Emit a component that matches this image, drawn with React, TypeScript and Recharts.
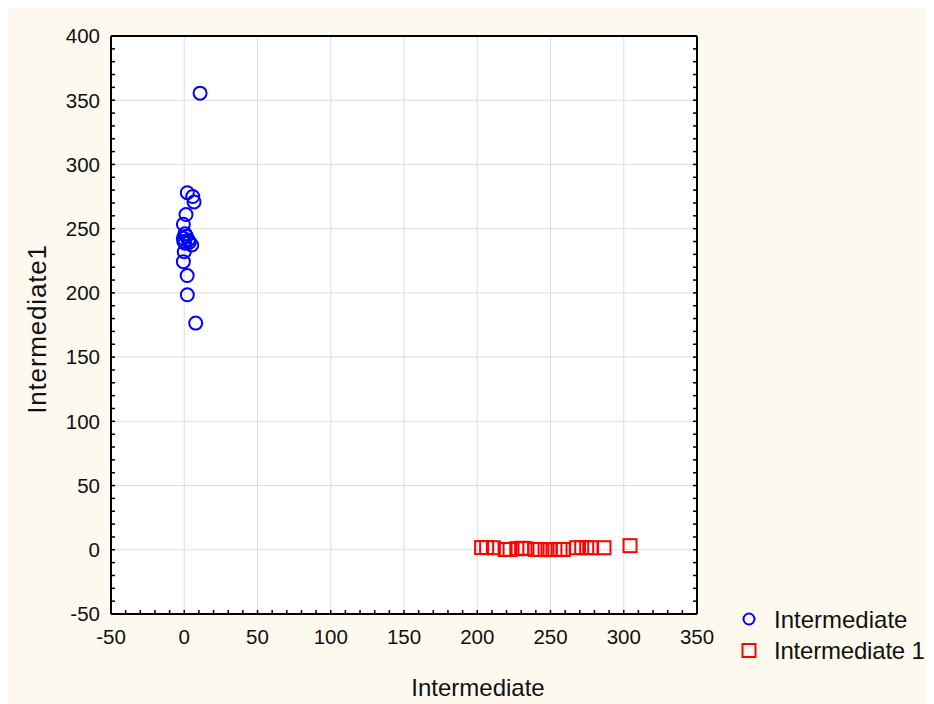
import React from 'react';
import {
  ScatterChart, Scatter, XAxis, YAxis, ReferenceLine, CartesianGrid, Legend,
} from 'recharts';

// ---- data ----
const blueSeriesName = 'Intermediate';
const redSeriesName = 'Intermediate 1';
const xTitle = 'Intermediate';
const yTitle = 'Intermediate1';

const blueX = [10.8, 2.1, 5.8, 6.7, 1.2, -0.6, 0.5, -0.6, 2.8, 0.5, 5.1, 0.0, -0.6, 2.0, 2.1, 7.8, 1.5, 3.5, -0.3];
const blueY = [355.5, 278, 275, 270.8, 261, 253.4, 246, 242.5, 241, 238.6, 237.3, 232, 224.3, 213.5, 198.5, 176.5, 244, 239.5, 240];

const redX = [203, 206.4, 211, 219, 222.4, 227, 230.3, 232.6, 239.4, 242.8, 246.3, 249.7, 253, 256.5, 258.7, 267.9, 271.3, 274.7, 278, 286.5, 304.3];
const redY = [1.7, 1.8, 1.6, 0.2, 0.3, 0.8, 1.2, 1.0, 0.3, 0.2, 0.2, 0.1, 0.2, 0.3, 0.2, 1.6, 1.7, 1.6, 1.6, 1.6, 3.2];

const xMajorTicks = [-50, 0, 50, 100, 150, 200, 250, 300, 350];
const yMajorTicks = [-50, 0, 50, 100, 150, 200, 250, 300, 350, 400];
const xAllTicks = [-50, -40, -30, -20, -10, 0, 10, 20, 30, 40, 50, 60, 70, 80, 90, 100, 110, 120, 130, 140, 150, 160, 170, 180, 190, 200, 210, 220, 230, 240, 250, 260, 270, 280, 290, 300, 310, 320, 330, 340, 350];
const yAllTicks = [-50, -40, -30, -20, -10, 0, 10, 20, 30, 40, 50, 60, 70, 80, 90, 100, 110, 120, 130, 140, 150, 160, 170, 180, 190, 200, 210, 220, 230, 240, 250, 260, 270, 280, 290, 300, 310, 320, 330, 340, 350, 360, 370, 380, 390, 400];
const xDomain = [-50, 350];
const yDomain = [-50, 400];

const blueData = blueX.map((x, i) => ({ x, y: blueY[i] }));
const redData = redX.map((x, i) => ({ x, y: redY[i] }));

// ---- styles ----
const FONT = '"Liberation Sans", Arial, sans-serif';
const BLUE = '#0000FF';
const RED = '#FF0000';
const TEXT = '#111111';
const GRID = '#DDDDDD';
const BG = '#FEF9EF';
const TICK_LEN = 4;

const BottomTick = (props: any) => {
  const { x, y, payload } = props;
  const major = xMajorTicks.includes(payload.value);
  return (
    <g>
      <line x1={x} y1={y} x2={x} y2={y - TICK_LEN} stroke="#000" strokeWidth={1.5} />
      {major && (
        <text x={x} y={y + 30} textAnchor="middle" fill={TEXT} fontSize={20.5} fontFamily={FONT}>
          {payload.value}
        </text>
      )}
    </g>
  );
};
const TopTick = (props: any) => {
  const { x, y } = props;
  return <line x1={x} y1={y} x2={x} y2={y + TICK_LEN} stroke="#000" strokeWidth={1.5} />;
};
const LeftTick = (props: any) => {
  const { x, y, payload } = props;
  const major = yMajorTicks.includes(payload.value);
  return (
    <g>
      <line x1={x} y1={y} x2={x + TICK_LEN} y2={y} stroke="#000" strokeWidth={1.5} />
      {major && (
        <text x={x - 11} y={y + 7.3} textAnchor="end" fill={TEXT} fontSize={20.5} fontFamily={FONT}>
          {payload.value}
        </text>
      )}
    </g>
  );
};
const RightTick = (props: any) => {
  const { x, y } = props;
  return <line x1={x} y1={y} x2={x - TICK_LEN} y2={y} stroke="#000" strokeWidth={1.5} />;
};

const CircleShape = (p: any) => (
  <circle cx={p.cx} cy={p.cy} r={6.5} fill="none" stroke={BLUE} strokeWidth={2} />
);
const SquareShape = (p: any) => (
  <rect x={p.cx - 6.5} y={p.cy - 6.5} width={13} height={13} fill="none" stroke={RED} strokeWidth={2} />
);

const LegendContent = () => (
  <svg width={196} height={64} style={{ display: 'block', overflow: 'visible' }}>
    <circle cx={11} cy={16} r={5.5} fill="none" stroke={BLUE} strokeWidth={2} />
    <text x={36} y={24.5} fill={TEXT} fontSize={24} fontFamily={FONT}>{blueSeriesName}</text>
    <rect x={4.5} y={41} width={13} height={13} fill="none" stroke={RED} strokeWidth={2} />
    <text x={36} y={56} fill={TEXT} fontSize={24} letterSpacing={-0.2} fontFamily={FONT}>{redSeriesName}</text>
  </svg>
);

const YTitle = (props: any) => {
  const vb = props.viewBox || {};
  const cx = vb.x + 29;
  const cy = vb.y + vb.height / 2 + 4;
  return (
    <text x={cx} y={cy} transform={`rotate(-90 ${cx} ${cy})`} textAnchor="middle" dominantBaseline="central"
      fill={TEXT} fontSize={26} letterSpacing={0.8} fontFamily={FONT}>
      {yTitle}
    </text>
  );
};
const XTitle = (props: any) => {
  const vb = props.viewBox || {};
  return (
    <text x={470} y={vb.y + 81.5} textAnchor="middle" fill={TEXT} fontSize={24} fontFamily={FONT}>
      {xTitle}
    </text>
  );
};

export default function App() {
  return (
    <div style={{ width: 926, height: 696, background: BG }}>
      <style>{'html,body{overflow:hidden;}'}</style>
      <ScatterChart width={926} height={696} margin={{ top: 0, right: 227, bottom: 0, left: 0 }}>
        <CartesianGrid horizontal={false} vertical={false} fill="#FFFFFF" />
        {xMajorTicks.slice(1, -1).map((v) => (
          <ReferenceLine key={'vx' + v} x={v} stroke={GRID} strokeWidth={1} />
        ))}
        {yMajorTicks.slice(1, -1).map((v) => (
          <ReferenceLine key={'hy' + v} y={v} stroke={GRID} strokeWidth={1} />
        ))}
        <XAxis
          dataKey="x" type="number" domain={xDomain} ticks={xAllTicks} interval={0}
          allowDataOverflow height={90} tickLine={false} tickSize={0} tickMargin={0}
          axisLine={{ stroke: '#000', strokeWidth: 2 }} tick={<BottomTick />}
          label={<XTitle />}
        />
        <XAxis
          xAxisId="top" orientation="top" type="number" domain={xDomain} ticks={xAllTicks} interval={0}
          allowDataOverflow height={28} tickLine={false} tickSize={0} tickMargin={0}
          axisLine={{ stroke: '#000', strokeWidth: 2 }} tick={<TopTick />}
        />
        <YAxis
          dataKey="y" type="number" domain={yDomain} ticks={yAllTicks} interval={0}
          allowDataOverflow width={103} tickLine={false} tickSize={0} tickMargin={0}
          axisLine={{ stroke: '#000', strokeWidth: 2 }} tick={<LeftTick />}
          label={<YTitle />}
        />
        <YAxis
          yAxisId="right" orientation="right" type="number" domain={yDomain} ticks={yAllTicks} interval={0}
          allowDataOverflow width={10} tickLine={false} tickSize={0} tickMargin={0}
          axisLine={{ stroke: '#000', strokeWidth: 2 }} tick={<RightTick />}
        />
        <Scatter name={blueSeriesName} data={blueData} shape={<CircleShape />} isAnimationActive={false} />
        <Scatter name={redSeriesName} data={redData} shape={<SquareShape />} isAnimationActive={false} />
        <Legend
          layout="vertical" align="center" verticalAlign="middle"
          content={<LegendContent />}
          wrapperStyle={{ left: 730, top: 595, width: 196, height: 64 }}
        />
      </ScatterChart>
    </div>
  );
}
